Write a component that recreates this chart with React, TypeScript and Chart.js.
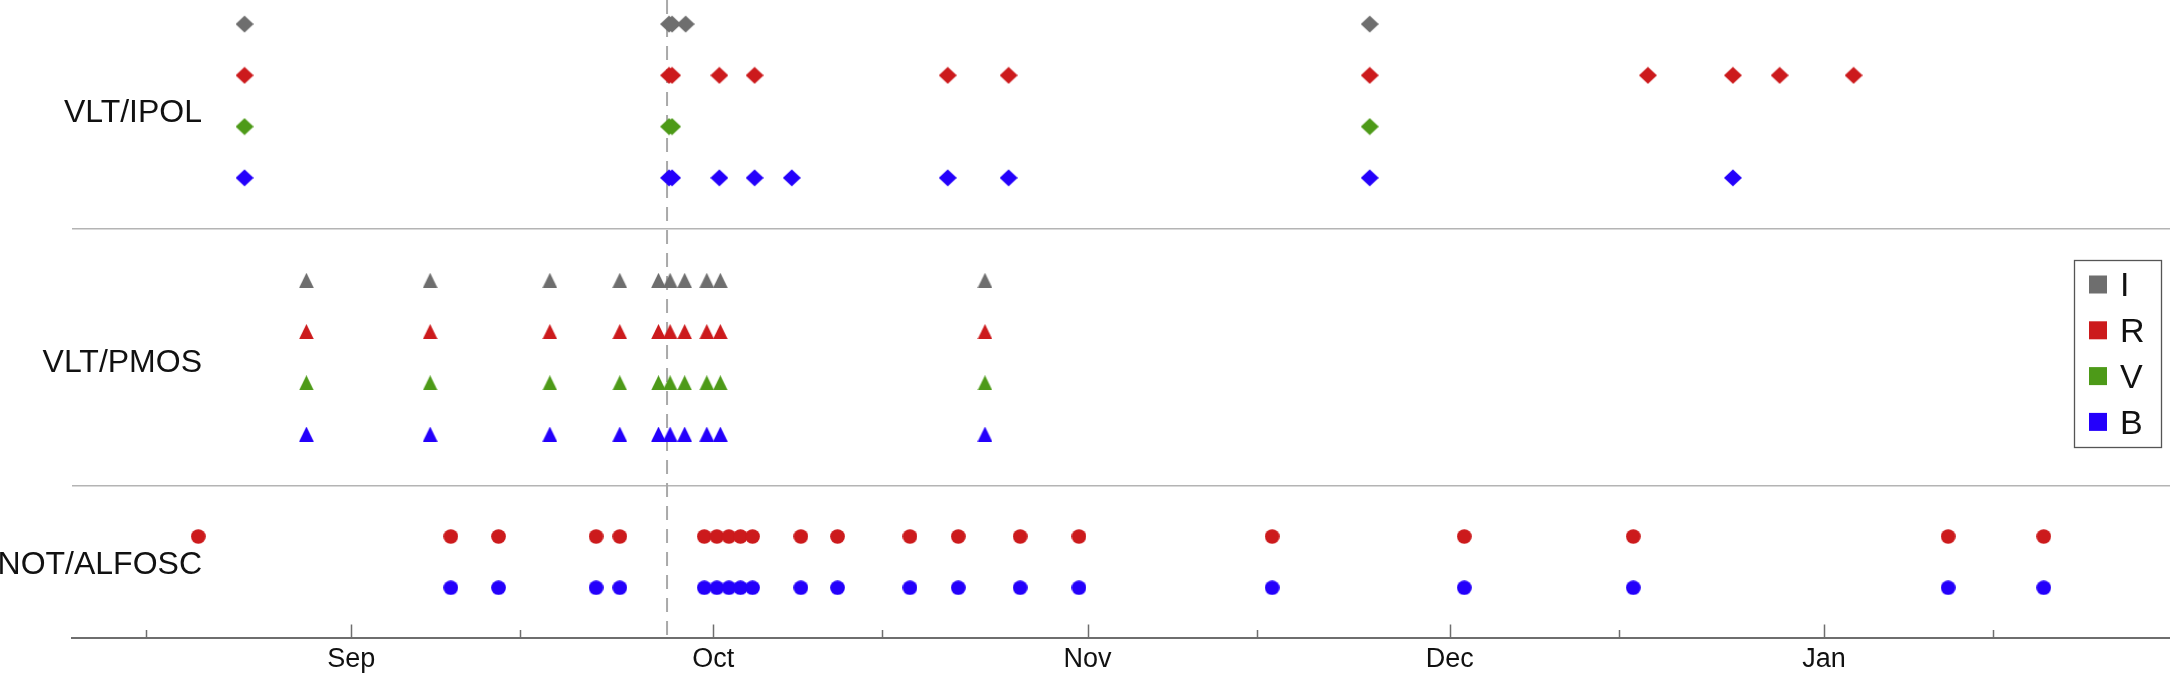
import { useEffect, useRef } from 'react';
import { Chart, registerables } from 'chart.js';

Chart.register(...registerables);

// ---------- data (dates of observations, UTC) ----------
const filterNames = ['I', 'R', 'V', 'B'];
const filterColors = ['#6e6e6e', '#cc1a1c', '#4d9a18', '#2400fb'];

const instrumentNames = ['VLT/IPOL', 'VLT/PMOS', 'NOT/ALFOSC'];
const instrumentLabelRows = [10.26, 5.39, 1.44];
const panelSeparators = [3, 8];

// row (y-value) of each filter inside each instrument panel
const ipolRows = [12, 11, 10, 9]; // I, R, V, B
const pmosRows = [7, 6, 5, 4]; // I, R, V, B
const alfoscRows = [2, 1]; // R, B

const ipolI = ['2015-08-23T04:00', '2015-09-27T08:00', '2015-09-27T14:00', '2015-09-28T17:00', '2015-11-24T09:00'];
const ipolR = [
  '2015-08-23T04:00', '2015-09-27T08:00', '2015-09-27T14:00', '2015-10-01T12:00', '2015-10-04T10:00',
  '2015-10-20T10:00', '2015-10-25T11:00', '2015-11-24T09:00', '2015-12-17T10:00', '2015-12-24T11:00',
  '2015-12-28T08:00', '2016-01-03T11:00',
];
const ipolV = ['2015-08-23T04:00', '2015-09-27T08:00', '2015-09-27T14:00', '2015-11-24T09:00'];
const ipolB = [
  '2015-08-23T04:00', '2015-09-27T08:00', '2015-09-27T14:00', '2015-10-01T12:00', '2015-10-04T10:00',
  '2015-10-07T12:00', '2015-10-20T10:00', '2015-10-25T11:00', '2015-11-24T09:00', '2015-12-24T11:00',
];

const pmosI = [
  '2015-08-28T07:00', '2015-09-07T13:00', '2015-09-17T11:00', '2015-09-23T06:00', '2015-09-26T11:00',
  '2015-09-27T10:00', '2015-09-28T15:00', '2015-09-30T11:00', '2015-10-01T14:00', '2015-10-23T12:00',
];
const pmosR = [...pmosI];
const pmosV = [...pmosI];
const pmosB = [...pmosI];

const alfoscR = [
  '2015-08-19T08:00', '2015-09-09T06:00', '2015-09-13T05:00', '2015-09-21T07:00', '2015-09-23T06:00',
  '2015-09-30T06:00', '2015-10-01T07:00', '2015-10-02T07:00', '2015-10-03T06:00', '2015-10-04T06:00',
  '2015-10-08T06:00', '2015-10-11T07:00', '2015-10-17T07:00', '2015-10-21T07:00', '2015-10-26T10:00',
  '2015-10-31T07:00', '2015-11-16T07:00', '2015-12-02T05:00', '2015-12-16T05:00', '2016-01-11T07:00',
  '2016-01-19T05:00',
];
const alfoscB = alfoscR.slice(1);

const markerDate = '2015-09-27T04:00';

const majorTickDates = ['2015-09-01T00:00', '2015-10-01T00:00', '2015-11-01T00:00', '2015-12-01T00:00', '2016-01-01T00:00'];
const majorTickLabels = ['Sep', 'Oct', 'Nov', 'Dec', 'Jan'];
const minorTickDates = ['2015-08-15T00:00', '2015-09-15T00:00', '2015-10-15T00:00', '2015-11-15T00:00', '2015-12-15T00:00', '2016-01-15T00:00'];
const xRange = ['2015-08-08T21:00', '2016-01-29T16:00'];
const yRange = [0.02, 12.47];

// ---------- helpers ----------
const ORIGIN = Date.parse('2015-09-01T00:00Z');
const toDay = (s: string) => (Date.parse(s + 'Z') - ORIGIN) / 86400000;
const FONT = "'Liberation Sans', Arial, Helvetica, sans-serif";

function makeMarker(shape: string, color: string): HTMLCanvasElement {
  const c = document.createElement('canvas');
  const ctx = c.getContext('2d')!;
  if (shape === 'diamond') {
    c.width = 18; c.height = 18;
    ctx.fillStyle = color;
    ctx.beginPath();
    ctx.moveTo(9, 0.4); ctx.lineTo(18, 9); ctx.lineTo(9, 17.6); ctx.lineTo(0, 9);
    ctx.closePath(); ctx.fill();
  } else if (shape === 'triangle') {
    c.width = 15; c.height = 15;
    ctx.fillStyle = color;
    ctx.beginPath();
    ctx.moveTo(7.5, 0); ctx.lineTo(14.8, 15); ctx.lineTo(0.2, 15);
    ctx.closePath(); ctx.fill();
  } else {
    c.width = 15; c.height = 15;
    ctx.fillStyle = color;
    ctx.beginPath();
    ctx.arc(7.5, 7.5, 7.35, 0, Math.PI * 2);
    ctx.fill();
  }
  return c;
}

function series(dates: string[], row: number, shape: string, color: string, label: string) {
  return {
    label,
    data: dates.map((d) => ({ x: toDay(d), y: row })),
    pointStyle: makeMarker(shape, color),
    pointRadius: 8,
    pointHoverRadius: 8,
    backgroundColor: color,
    borderWidth: 0,
    showLine: false,
    clip: false,
  };
}

const decorPlugin = {
  id: 'decor',
  beforeDatasetsDraw(chart: any) {
    const { ctx, chartArea, scales } = chart;
    const xs = scales.x;
    const ys = scales.y;
    // dashed vertical marker
    const mx = xs.getPixelForValue(toDay(markerDate));
    ctx.save();
    ctx.strokeStyle = '#a9a9a9';
    ctx.lineWidth = 2;
    ctx.setLineDash([14, 9]);
    ctx.beginPath();
    ctx.moveTo(mx, chartArea.top);
    ctx.lineTo(mx, chartArea.bottom);
    ctx.stroke();
    ctx.restore();

    // inward ticks
    ctx.save();
    ctx.strokeStyle = '#6e6e6e';
    ctx.lineWidth = 1.5;
    const drawTick = (d: string, len: number) => {
      const px = Math.round(xs.getPixelForValue(toDay(d))) + 0.5;
      ctx.beginPath();
      ctx.moveTo(px, chartArea.bottom);
      ctx.lineTo(px, chartArea.bottom - len);
      ctx.stroke();
    };
    majorTickDates.forEach((d) => drawTick(d, 13.5));
    minorTickDates.forEach((d) => drawTick(d, 8));
    ctx.restore();

    // instrument labels
    ctx.save();
    ctx.fillStyle = '#111111';
    ctx.font = `32px ${FONT}`;
    ctx.textAlign = 'right';
    ctx.textBaseline = 'middle';
    instrumentNames.forEach((name, i) => {
      ctx.fillText(name, chartArea.left + 130, ys.getPixelForValue(instrumentLabelRows[i]));
    });
    ctx.restore();
  },
  afterDraw(chart: any) {
    const { ctx } = chart;
    // legend box
    ctx.save();
    const bx = 2074.5, by = 260.5, bw = 87, bh = 187;
    ctx.fillStyle = '#ffffff';
    ctx.fillRect(bx, by, bw, bh);
    ctx.strokeStyle = '#555555';
    ctx.lineWidth = 1.3;
    ctx.strokeRect(bx, by, bw, bh);
    ctx.font = `34px ${FONT}`;
    ctx.textAlign = 'left';
    ctx.textBaseline = 'middle';
    filterNames.forEach((f, i) => {
      const cy = 284.5 + i * 45.8;
      ctx.fillStyle = filterColors[i];
      ctx.fillRect(2089, cy - 9, 18, 18);
      ctx.fillStyle = '#111111';
      ctx.fillText(f, 2120, cy + 2.5);
    });
    ctx.restore();
  },
};

export default function App() {
  const ref = useRef<HTMLCanvasElement | null>(null);

  useEffect(() => {
    if (!ref.current) return;
    const datasets = [
      series(ipolI, ipolRows[0], 'diamond', filterColors[0], 'IPOL I'),
      series(ipolR, ipolRows[1], 'diamond', filterColors[1], 'IPOL R'),
      series(ipolV, ipolRows[2], 'diamond', filterColors[2], 'IPOL V'),
      series(ipolB, ipolRows[3], 'diamond', filterColors[3], 'IPOL B'),
      series(pmosI, pmosRows[0], 'triangle', filterColors[0], 'PMOS I'),
      series(pmosR, pmosRows[1], 'triangle', filterColors[1], 'PMOS R'),
      series(pmosV, pmosRows[2], 'triangle', filterColors[2], 'PMOS V'),
      series(pmosB, pmosRows[3], 'triangle', filterColors[3], 'PMOS B'),
      series(alfoscR, alfoscRows[0], 'circle', filterColors[1], 'ALFOSC R'),
      series(alfoscB, alfoscRows[1], 'circle', filterColors[3], 'ALFOSC B'),
    ];
    const chart = new Chart(ref.current, {
      type: 'scatter',
      data: { datasets },
      options: {
        animation: false,
        responsive: false,
        devicePixelRatio: 1,
        layout: { padding: 0, autoPadding: false },
        plugins: { legend: { display: false }, tooltip: { enabled: false } },
        scales: {
          x: {
            type: 'linear',
            position: 'bottom',
            min: toDay(xRange[0]),
            max: toDay(xRange[1]),
            afterFit: (s: any) => { s.height = 38; },
            afterBuildTicks: (s: any) => {
              s.ticks = majorTickDates.map((d) => ({ value: toDay(d) }));
            },
            ticks: {
              autoSkip: false,
              maxRotation: 0,
              padding: 5,
              color: '#111111',
              font: { family: FONT, size: 27 },
              callback: (_v: any, i: number) => majorTickLabels[i] ?? '',
            },
            grid: { display: false, drawTicks: false },
            border: { display: true, color: '#6e6e6e', width: 2 },
          },
          y: {
            type: 'linear',
            min: yRange[0],
            max: yRange[1],
            afterFit: (s: any) => { s.width = 72; },
            afterBuildTicks: (s: any) => {
              s.ticks = panelSeparators.map((v) => ({ value: v }));
            },
            ticks: { display: false },
            grid: { color: '#b4b4b4', lineWidth: 1.5, drawTicks: false },
            border: { display: false },
          },
        },
      },
      plugins: [decorPlugin],
    });
    return () => chart.destroy();
  }, []);

  return (
    <div style={{ position: 'fixed', left: 0, top: 0, width: 2170, height: 676, background: '#fff' }}>
      <canvas ref={ref} width={2170} height={676} style={{ display: 'block' }} />
    </div>
  );
}
